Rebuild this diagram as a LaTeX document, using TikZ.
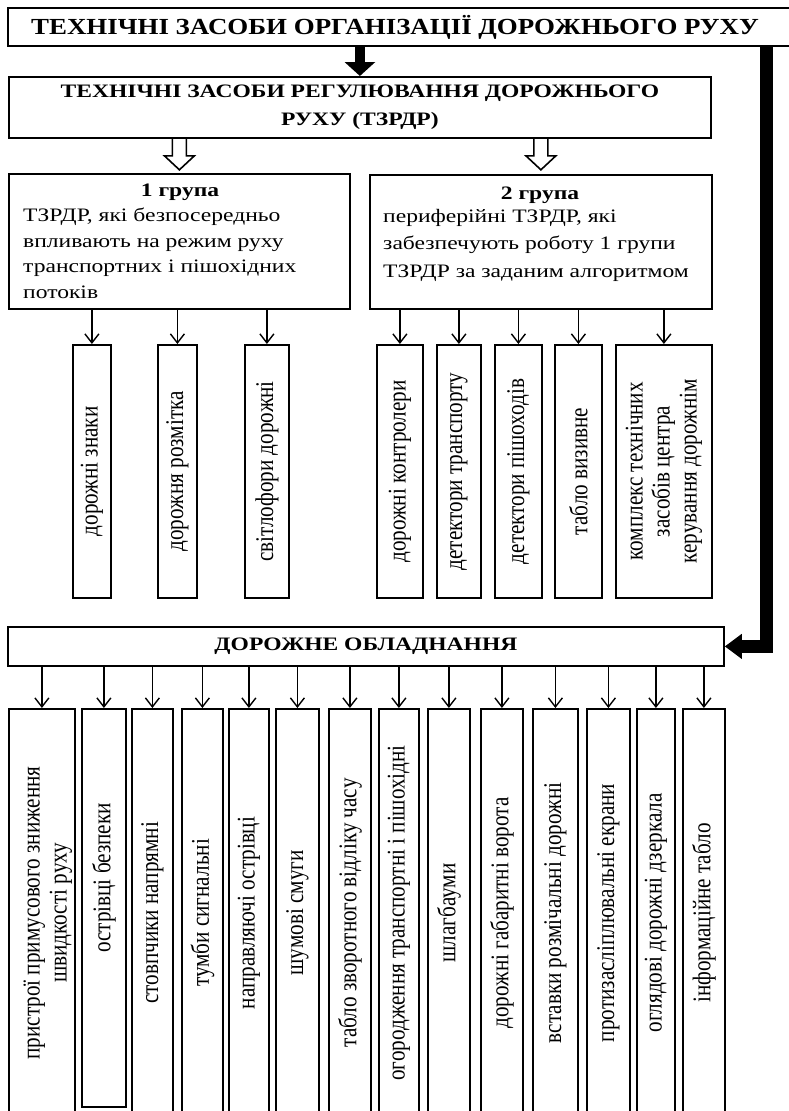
\documentclass[tikz,border=0pt]{standalone}
\usepackage{fontspec}
\setmainfont{Liberation Serif}
\newfontfamily\titlefont[FakeStretch=1.17]{Liberation Serif}
\newfontfamily\widefont[FakeStretch=1.24]{Liberation Serif}
\newfontfamily\tallfont[FakeStretch=0.83]{Liberation Serif}
\usetikzlibrary{arrows.meta}

\tikzset{
  box/.style={draw, line width=1.8pt, inner sep=0pt},
  vtext/.style={rotate=90, align=center, inner sep=0pt, font=\tallfont\fontsize{25.5}{27}\selectfont},
  gtext/.style={align=left, inner sep=0pt, anchor=north west},
  arr/.style={line width=1.4pt, -{Straight Barb[length=9pt,width=14pt]}},
  heavy/.style={line width=10pt, -{Triangle[length=14pt,width=30pt]}},
  heavyside/.style={line width=13pt, -{Triangle[length=17pt,width=24pt]}},
  hollow/.style={line width=1.6pt, line join=miter},
}

\begin{document}
\begin{tikzpicture}[x=1pt,y=-1pt]
\useasboundingbox (0,0) rectangle (788,1111);

% top levels
\node[box, anchor=north west, minimum width=800, minimum height=38] (title) at (7,7) {};
\node[font=\titlefont\fontsize{23}{28}\selectfont\bfseries] (titletext) at (395,27) {ТЕХНІЧНІ ЗАСОБИ ОРГАНІЗАЦІЇ ДОРОЖНЬОГО РУХУ};
\node[box, anchor=north west, minimum width=702, minimum height=61] (tzrdr) at (8,76) {};
\node[font=\widefont\fontsize{19}{28}\selectfont\bfseries, align=center] (tzrdrtext) at (tzrdr.center) {ТЕХНІЧНІ ЗАСОБИ РЕГУЛЮВАННЯ ДОРОЖНЬОГО\\РУХУ (ТЗРДР)};
\draw[heavy] (title.south -| tzrdr.north) -- (tzrdr.north);

% groups
\node[box, anchor=north west, minimum width=341, minimum height=135] (g1) at (8,173) {};
\node[box, anchor=north west, minimum width=342, minimum height=134] (g2) at (369,174) {};
\draw[hollow] (tzrdr.south -| g1.north) ++(-7,0) -- ++(0,17) -- ++(-8,0) -- ++(15,14) -- ++(15,-14) -- ++(-8,0) -- ++(0,-17);
\draw[hollow] (tzrdr.south -| g2.north) ++(-7,0) -- ++(0,17) -- ++(-8,0) -- ++(15,14) -- ++(15,-14) -- ++(-8,0) -- ++(0,-17);
\node[font=\widefont\fontsize{19}{25}\selectfont\bfseries] (g1head) at (180,192) {1 група};
\node[gtext, font=\widefont\fontsize{19}{25.5}\selectfont] (g1body) at (23,208) {ТЗРДР, які безпосередньо\\впливають на режим руху\\транспортних і пішохідних\\потоків};
\node[font=\widefont\fontsize{19}{25}\selectfont\bfseries] (g2head) at (540,195) {2 група};
\node[gtext, font=\widefont\fontsize{19}{27.5}\selectfont] (g2body) at (383,209) {периферійні ТЗРДР, які\\забезпечують роботу 1 групи\\ТЗРДР за заданим алгоритмом};

\foreach \xa/\xb/\txt [count=\i] in {72/110/{дорожні знаки}, 157/196/{дорожня розмітка}, 244/288/{світлофори дорожні}}{
  \node[box, anchor=north west, minimum width={\xb-\xa}, minimum height=253] (a\i) at (\xa,344) {};
  \node[vtext] (at\i) at (a\i.center) {\txt};
  \draw[arr] (g1.south -| a\i.north) -- (a\i.north);
}
\foreach \xa/\xb/\txt [count=\i] in {376/422/{дорожні контролери}, 436/480/{детектори транспорту}, 494/541/{детектори пішоходів}, 554/601/{табло визивне}, 615/711/{комплекс технічних\\засобів центра\\керування дорожнім}}{
  \node[box, anchor=north west, minimum width={\xb-\xa}, minimum height=253] (b\i) at (\xa,344) {};
  \node[vtext] (bt\i) at (b\i.center) {\txt};
  \draw[arr] (g2.south -| b\i.north) -- (b\i.north);
}

% equipment
\node[box, anchor=north west, minimum width=716, minimum height=39] (equip) at (7,626) {};
\node[font=\widefont\fontsize{19}{25}\selectfont\bfseries] (equiptext) at (equip.center) {ДОРОЖНЕ ОБЛАДНАННЯ};
\coordinate (bend) at (766,650);
\draw[heavyside] (title.south -| bend) |- (equip.east);

\foreach \xa/\xb/\yb/\dx/\dy/\txt [count=\i] in {8/74/1116/6/0/{пристрої примусового зниження\\швидкості руху}, 81/125/1106/0/30/{острівці безпеки}, 131/172/1116/0/0/{стовпчики напрямні}, 181/222/1116/0/0/{тумби сигнальні}, 228/268/1116/0/0/{направляючі острівці}, 275/318/1116/0/0/{шумові смуги}, 328/370/1116/0/0/{табло зворотного відліку часу}, 378/418/1116/0/0/{огородження транспортні і пішохідні}, 427/469/1116/0/0/{шлагбауми}, 480/522/1116/0/0/{дорожні габаритні ворота}, 532/577/1116/0/0/{вставки розмічальні дорожні}, 586/629/1116/0/0/{протизасліплювальні екрани}, 636/674/1116/0/0/{оглядові дорожні дзеркала}, 682/724/1116/0/0/{інформаційне табло}}{
  \node[box, anchor=north west, minimum width={\xb-\xa}, minimum height={\yb-708}] (e\i) at (\xa,708) {};
  \node[xshift=\dx, yshift=\dy, vtext] (et\i) at (e\i.center) {\txt};
  \draw[arr] (equip.south -| e\i.north) -- (e\i.north);
}
\end{tikzpicture}
\end{document}
